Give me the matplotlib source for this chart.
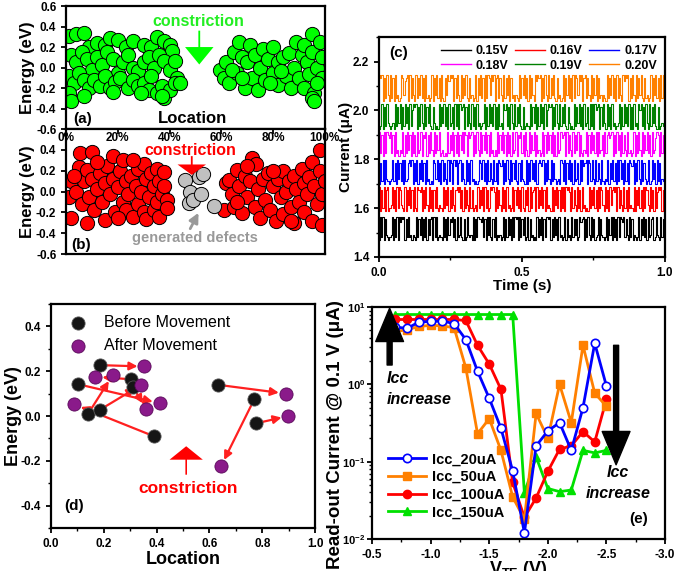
import numpy as np
import matplotlib
matplotlib.use('Agg')
import matplotlib.pyplot as plt
from matplotlib.ticker import MultipleLocator, FixedLocator, NullFormatter, NullLocator
from matplotlib.patches import FancyArrow

plt.rcParams['font.family'] = ['Liberation Sans', 'DejaVu Sans']
plt.rcParams['font.weight'] = 'bold'
plt.rcParams['axes.labelweight'] = 'bold'
plt.rcParams['axes.linewidth'] = 1.6
plt.rcParams['axes.unicode_minus'] = False
plt.rcParams['mathtext.fontset'] = 'custom'
plt.rcParams['mathtext.rm'] = 'Liberation Sans:bold'
plt.rcParams['mathtext.bf'] = 'Liberation Sans:bold'
plt.rcParams['mathtext.it'] = 'Liberation Sans:italic:bold'
plt.rcParams['xtick.labelsize'] = 8.5
plt.rcParams['ytick.labelsize'] = 8.5
plt.rcParams['xtick.major.width'] = 1.3
plt.rcParams['ytick.major.width'] = 1.3
plt.rcParams['xtick.minor.width'] = 1.0
plt.rcParams['ytick.minor.width'] = 1.0

# ---- (a) traps before forming: location (%), energy (eV)
a_loc = [1, 4, 7, 9, 12, 15, 17, 20, 23, 26, 30, 33, 35, 38, 40, 41,
         2, 4, 6, 8, 10, 12, 14, 16, 18, 20, 22, 24, 26, 28, 30, 32, 34, 36, 38, 40, 42, 43,
         1, 3, 5, 7, 9, 11, 13, 15, 17, 19, 21, 24, 26, 28, 30, 32, 33, 35, 37, 38, 40, 42, 44,
         1, 2, 7, 18, 29, 37,
         59.5, 62, 61, 63, 65, 66, 67, 68, 69, 70, 71, 72, 73, 74, 75, 76, 77, 78, 80, 80,
         82, 82, 84, 85, 86, 87, 88, 89, 90, 91, 92, 92, 93, 94, 95, 95, 96, 97, 98, 99,
         99, 95, 96, 97, 64, 68, 79, 83]
a_en = [0.31, 0.33, 0.34, 0.2, 0.24, 0.22, 0.29, 0.27, 0.2, 0.26, 0.22, 0.2, 0.3, 0.26, 0.22, 0.16,
        0.12, 0.05, 0.15, 0.08, -0.02, 0.1, 0.02, 0.15, 0.08, -0.05, 0.05, 0.12, 0.0, -0.03, 0.05, 0.1, 0.0, 0.12, 0.06, -0.02, 0.06, -0.1,
        -0.08, -0.15, -0.05, -0.12, -0.2, -0.12, -0.18, -0.08, -0.2, -0.14, -0.1, -0.2, -0.12, -0.18, -0.15, -0.22, -0.08, -0.25, -0.18, -0.3, -0.22, -0.15, -0.15,
        -0.25, -0.33, -0.28, -0.24, -0.25, -0.28,
        -0.02, 0.05, -0.1, -0.15, 0.15, -0.05, 0.25, 0.1, -0.2, 0.05, 0.22, -0.1, 0.12, -0.22, 0.0, 0.18, -0.12, 0.08, 0.2, -0.05,
        -0.17, 0.05, 0.1, -0.08, 0.14, -0.2, 0.0, 0.25, -0.1, 0.12, 0.22, -0.2, 0.05, -0.06, 0.33, 0.15, -0.25, 0.0, 0.25, 0.1,
        -0.1, -0.3, -0.33, -0.15, -0.02, -0.1, -0.15, -0.03]

# ---- (b) traps after forming
b_loc = [2, 1, 2, 4, 5, 5.5, 6, 7, 8, 8, 9, 10, 10, 11, 12, 13, 14, 15, 15, 16, 17, 18, 18, 19,
         20, 21, 22, 22, 23, 23, 24, 25, 26, 27, 28, 28, 29, 30, 30, 31, 31, 32, 33, 34, 34, 35,
         35, 36, 36, 37, 38, 38, 39, 39, 3, 12, 26, 20,
         61, 62, 63, 64, 65, 66, 67, 68, 69, 70, 71, 72, 73, 73.6, 74, 75, 76, 77, 78, 79, 80,
         81, 82, 83, 84, 84, 85, 86, 87, 88, 88, 89, 90, 91, 92, 92, 93, 94, 95, 95, 96, 97,
         98, 98, 99, 99, 100, 66, 70, 80, 87]
b_en = [0.1, -0.05, -0.25, 0.0, 0.24, 0.37, -0.12, 0.1, 0.21, -0.3, -0.05, 0.38, 0.12, -0.18, 0.02, 0.18, -0.1, 0.08, -0.27, 0.25, -0.02, 0.34, 0.12, -0.2,
        0.04, 0.2, 0.3, -0.1, 0.1, -0.18, -0.02, 0.15, -0.24, 0.05, 0.22, -0.12, 0.0, 0.26, -0.2, 0.12, -0.26, -0.05, 0.18, 0.05, -0.18, 0.22,
        -0.1, 0.1, -0.24, -0.02, 0.19, 0.05, -0.08, -0.16, 0.15, 0.28, 0.3, -0.25,
        -0.18, 0.08, 0.11, -0.02, -0.15, 0.21, 0.05, -0.21, 0.15, -0.05, 0.1, 0.32, -0.15, 0.26, 0.02, -0.25, 0.12, -0.08, 0.18, -0.18, 0.05,
        -0.28, 0.12, -0.05, 0.2, -0.22, 0.0, 0.1, -0.15, 0.15, -0.3, 0.02, -0.1, 0.22, -0.2, 0.08, -0.02, 0.14, 0.28, -0.28, 0.05, -0.12,
        0.4, 0.2, -0.02, -0.32, 0.1, -0.1, 0.25, 0.2, -0.28]
gen_loc = [46, 48, 47.5, 49, 51.5, 53, 52, 57]
gen_en = [0.11, 0.0, -0.11, -0.08, 0.14, 0.17, -0.02, -0.14]
pct_ticks = [0, 20, 40, 60, 80, 100]

# ---- (c) random telegraph noise, each digit = one sample (0 = band bottom, 9 = band top)
rtn_labels = ['0.15V', '0.16V', '0.17V', '0.18V', '0.19V', '0.20V']
rtn_colors = ['black', '#ff0000', '#0000ff', '#ff00ff', '#008000', '#ff8000']
rtn_low = [1.47, 1.59, 1.70, 1.815, 1.925, 2.04]
rtn_high = [1.565, 1.685, 1.795, 1.91, 2.025, 2.145]
rtn_states = [
    "09190821012908190979890819120210918290819082890919012109180928791809129108019212090819887918092910819021201908192809198909182901908120109182908199890819280912019081209182801978908192091801290821019082909180919879182091802101908291809128901921091802",
    "90819089012918091982109082918091098790819209180819102109182908192089791809182091801209182909180198970918209180912019082918091082909178909182918091210908291809190989709182091809120109182918091982091809289790918209180912109082918091982091809179890812",
    "08190921012918092819091289790819082918091201098291809182091980979089182091809120101982918091820918098790819209182910819210908192819089879081920918201209819082918091280919789098192091820910219082918091928091809879081920918201901928091802190",
    "91809198791809120219081928091809129087908192091829012010918290819082919809789081920918291809120209182918091809129087918092091829081201908192819080912978909182091829081021908192819091280918978908192809182091201908192091829180912798091820",
    "01908192101209182908192809179890819209182910820109182918091280919097890819209180912012908192819080912097918092091829108012109182908192809179890819209182910820109182918091280919097890819209180912012908192819080912097918092091829108012109",
    "98908192091809120198278909182091829180912019082918091082979890819209182910812019082918091982979089182091829081202109182918091820979890819209182910812019082918091982979089182091829081202109182918091820979890819209182910812019082918091982",
]

# ---- (d) trap movement
before_x = [0.102, 0.187, 0.139, 0.184, 0.303, 0.31, 0.391, 0.634, 0.770, 0.776]
before_y = [0.142, 0.227, 0.007, 0.027, 0.164, 0.13, -0.091, 0.139, 0.075, -0.033]
after_x = [0.411, 0.354, 0.233, 0.342, 0.168, 0.361, 0.088, 0.889, 0.644, 0.899]
after_y = [0.057, 0.221, 0.182, 0.139, 0.175, 0.030, 0.052, 0.100, -0.224, 0.0]

# ---- (e) read-out current vs V_TE
vte = [-0.7, -0.8, -0.9, -1.0, -1.1, -1.2, -1.3, -1.4, -1.5, -1.6, -1.7, -1.8, -1.9, -2.0, -2.1, -2.2, -2.3, -2.4, -2.5]
icc20 = [5.5, 5.3, 6.4, 6.5, 6.6, 6.1, 3.8, 1.48, 0.66, 0.27, 0.076, 0.012, 0.16, 0.25, 0.32, 0.14, 0.5, 3.4, 0.95]
icc50 = [4.8, 5.1, 5.6, 5.8, 5.7, 5.4, 1.64, 0.23, 0.36, 0.14, 0.035, 0.018, 0.42, 0.2, 1.0, 0.32, 3.2, 0.77, 0.52]
icc100 = [6.9, 6.9, 6.9, 6.9, 6.9, 6.9, 6.7, 3.2, 1.83, 0.86, 0.054, 0.019, 0.034, 0.075, 0.145, 0.16, 0.245, 0.18, 0.64]
icc150 = [8.0, 8.0, 8.0, 8.0, 8.0, 8.0, 8.0, 8.0, 8.0, 8.0, 8.0, 0.039, 0.115, 0.045, 0.041, 0.043, 0.14, 0.13, 0.14]

fig = plt.figure(figsize=(6.74, 5.71), dpi=100)

# ================= (a)
ax_a = fig.add_axes([0.0979, 0.774, 0.384, 0.2154])
ax_a.scatter(a_loc, a_en, s=105, c='#00ff00', edgecolors='black', linewidths=0.7, zorder=2)
ax_a.set_xlim(0, 100)
ax_a.set_ylim(-0.6, 0.6)
ax_a.yaxis.set_major_locator(MultipleLocator(0.2))
ax_a.xaxis.set_major_locator(NullLocator())
ax_a.set_yticklabels(['%.1f' % v for v in ax_a.get_yticks()])
ax_a.set_ylabel('Energy (eV)', fontsize=12)
ax_a.yaxis.set_label_coords(-0.12, 0.5)
ax_a.add_patch(FancyArrow(51.5, 0.36, 0, -0.33, width=0.7, head_width=11, head_length=0.17,
                          length_includes_head=True, color='#00ff00', lw=0))
ax_a.text(51, 0.45, 'constriction', color='#22ee22', fontsize=11.5, ha='center', va='center')
ax_a.text(6.5, -0.5, '(a)', fontsize=11, ha='center', va='center')
ax_a.text(49, -0.5, 'Location', fontsize=12, ha='center', va='center')

# ================= (b)
ax_b = fig.add_axes([0.0979, 0.555, 0.384, 0.219])
ax_b.scatter(b_loc, b_en, s=105, c='#ff0000', edgecolors='black', linewidths=0.7, zorder=2)
ax_b.scatter(gen_loc, gen_en, s=105, c='#c0c0c0', edgecolors='black', linewidths=0.7, zorder=2)
ax_b.set_xlim(0, 100)
ax_b.set_ylim(-0.6, 0.6)
ax_b.set_yticks([-0.6, -0.4, -0.2, 0.0, 0.2, 0.4])
ax_b.set_yticklabels(['-0.6', '-0.4', '-0.2', '0.0', '0.2', '0.4'])
ax_b.set_xticks(pct_ticks)
ax_b.set_xticklabels(['%d%%' % p for p in pct_ticks])
ax_b.tick_params(axis='x', bottom=False, labelbottom=False, top=True, labeltop=True,
                 direction='in', pad=-11, labelsize=8.5)
ax_b.set_ylabel('Energy (eV)', fontsize=12)
ax_b.yaxis.set_label_coords(-0.12, 0.5)
ax_b.add_patch(FancyArrow(48.6, 0.34, 0, -0.18, width=0.7, head_width=11, head_length=0.1,
                          length_includes_head=True, color='#ff0000', lw=0, zorder=3))
ax_b.text(48, 0.39, 'constriction', color='#ff0000', fontsize=11.5, ha='center', va='center')
ax_b.annotate('', xy=(51.7, -0.18), xytext=(47.5, -0.38),
              arrowprops=dict(arrowstyle='-|>', color='#999999', lw=2, mutation_scale=14))
ax_b.text(50, -0.45, 'generated defects', color='#999999', fontsize=10.5, ha='center', va='center')
ax_b.text(6, -0.51, '(b)', fontsize=11, ha='center', va='center')

# ================= (c)
ax_c = fig.add_axes([0.5623, 0.550, 0.4243, 0.385])
rtn_lines = []
for lab, col, lo, hi, st in zip(rtn_labels, rtn_colors, rtn_low, rtn_high, rtn_states):
    s = np.array([int(ch) for ch in st]) / 9.0
    t = np.linspace(0, 1, len(s))
    ln, = ax_c.step(t, lo + s * (hi - lo), where='post', color=col, lw=0.8, label=lab)
    rtn_lines.append(ln)
ax_c.set_xlim(0, 1)
ax_c.set_ylim(1.4, 2.3)
ax_c.xaxis.set_major_locator(MultipleLocator(0.5))
ax_c.xaxis.set_minor_locator(MultipleLocator(0.25))
ax_c.yaxis.set_major_locator(FixedLocator([1.4, 1.6, 1.8, 2.0, 2.2]))
ax_c.yaxis.set_minor_locator(MultipleLocator(0.1))
ax_c.set_xlabel('Time (s)', fontsize=11, labelpad=0)
ax_c.set_ylabel('Current (\u03bcA)', fontsize=11)
ax_c.yaxis.set_label_coords(-0.092, 0.5)
order = [0, 3, 1, 4, 2, 5]
leg = ax_c.legend([rtn_lines[i] for i in order], [rtn_labels[i] for i in order],
                  loc='upper right', ncol=3, frameon=False, fontsize=9, handlelength=2.4,
                  columnspacing=0.5, handletextpad=0.4, labelspacing=0.2, borderaxespad=0.25)
for h in leg.get_lines():
    h.set_linewidth(1.0)
ax_c.text(0.07, 0.93, '(c)', transform=ax_c.transAxes, fontsize=11, ha='center', va='center')

# ================= (d)
ax_d = fig.add_axes([0.0757, 0.0753, 0.3917, 0.3923])
for x0, y0, x1, y1 in zip(before_x, before_y, after_x, after_y):
    ax_d.annotate('', xy=(x1, y1), xytext=(x0, y0),
                  arrowprops=dict(arrowstyle='-|>', color='#ff2020', lw=1.6, mutation_scale=12,
                                  shrinkA=1, shrinkB=5))
ax_d.scatter(before_x, before_y, s=90, c='#151515', edgecolors='#555555', linewidths=0.6,
             zorder=3, label='Before Movement')
ax_d.scatter(after_x, after_y, s=90, c='#8a1a8a', edgecolors='#5a0a5a', linewidths=0.6,
             zorder=3, label='After Movement')
ax_d.set_xlim(0, 1.0)
ax_d.set_ylim(-0.5, 0.5)
ax_d.xaxis.set_major_locator(MultipleLocator(0.2))
ax_d.xaxis.set_minor_locator(MultipleLocator(0.1))
ax_d.yaxis.set_major_locator(FixedLocator([-0.4, -0.2, 0.0, 0.2, 0.4]))
ax_d.yaxis.set_minor_locator(MultipleLocator(0.1))
ax_d.set_xlabel('Location', fontsize=13, labelpad=1)
ax_d.set_ylabel('Energy (eV)', fontsize=13)
ax_d.yaxis.set_label_coords(-0.11, 0.5)
ax_d.legend(loc='upper left', frameon=False, prop={'weight': 'normal', 'size': 11.5},
            handletextpad=0.6, borderaxespad=0.3, labelspacing=0.5, scatterpoints=1)
ax_d.add_patch(FancyArrow(0.512, -0.262, 0, 0.127, width=0.006, head_width=0.126, head_length=0.06,
                          length_includes_head=True, color='#ff0000', lw=0))
ax_d.text(0.52, -0.324, 'constriction', color='#ff0000', fontsize=12.5, ha='center', va='center')
ax_d.text(0.088, -0.40, '(d)', fontsize=11, ha='center', va='center')

# ================= (e)
ax_e = fig.add_axes([0.552, 0.056, 0.4347, 0.4063])
l150, = ax_e.plot(vte, icc150, '-^', color='#00e000', lw=2, ms=6, label='Icc_150uA')
l100, = ax_e.plot(vte, icc100, '-o', color='#ff0000', lw=2, ms=6, label='Icc_100uA')
l50, = ax_e.plot(vte, icc50, '-s', color='#ff8000', lw=2, ms=5.5, label='Icc_50uA')
l20, = ax_e.plot(vte, icc20, '-o', color='#0000ff', lw=2, ms=6, mfc='white', mew=1.2, label='Icc_20uA')
ax_e.set_yscale('log')
ax_e.set_xlim(-0.5, -3.0)
ax_e.set_ylim(0.01, 10)
ax_e.xaxis.set_major_locator(MultipleLocator(0.5))
ax_e.xaxis.set_minor_locator(MultipleLocator(0.25))
ax_e.set_xticklabels(['%.1f' % v for v in ax_e.get_xticks()])
ax_e.yaxis.set_major_locator(FixedLocator([0.01, 0.1, 1, 10]))
ax_e.set_yticklabels([r'10$^{-2}$', r'10$^{-1}$', r'10$^{0}$', r'10$^{1}$'], fontsize=8)
ax_e.yaxis.set_minor_formatter(NullFormatter())
ax_e.tick_params(axis='y', pad=1.5)
ax_e.set_xlabel(r'V$_{\mathrm{TE}}$ (V)', fontsize=13, labelpad=-1)
ax_e.set_ylabel('Read-out Current @ 0.1 V (\u03bcA)', fontsize=13.5)
ax_e.yaxis.set_label_coords(-0.095, 0.45)
ax_e.legend(handles=[l20, l50, l100, l150], loc='upper left', bbox_to_anchor=(0.01, 0.43),
            frameon=False, fontsize=10.5, handlelength=2.6, handletextpad=0.4, labelspacing=0.25)
ax_e.annotate('', xy=(0.06, 0.995), xytext=(0.06, 0.75), xycoords='axes fraction',
              arrowprops=dict(arrowstyle='simple,head_length=1.2,head_width=1.0,tail_width=0.18',
                              color='black', mutation_scale=20, shrinkA=0, shrinkB=0))
ax_e.annotate('', xy=(0.833, 0.32), xytext=(0.833, 0.835), xycoords='axes fraction',
              arrowprops=dict(arrowstyle='simple,head_length=1.2,head_width=1.0,tail_width=0.18',
                              color='black', mutation_scale=20, shrinkA=0, shrinkB=0))
ax_e.text(0.05, 0.645, 'Icc\nincrease', transform=ax_e.transAxes, fontsize=11.5, style='italic',
          ha='left', va='center', linespacing=1.5)
ax_e.text(0.84, 0.24, 'Icc\nincrease', transform=ax_e.transAxes, fontsize=11.5, style='italic',
          ha='center', va='center', linespacing=1.5)
ax_e.text(0.91, 0.086, '(e)', transform=ax_e.transAxes, fontsize=11, ha='center', va='center')

for ax in [ax_a, ax_b, ax_c, ax_d, ax_e]:
    ax.tick_params(which='both', direction='out')
    ax.tick_params(which='major', length=3.5)
    ax.tick_params(which='minor', length=2)
ax_b.tick_params(axis='x', direction='in')

fig.savefig('out.png', dpi=100)
